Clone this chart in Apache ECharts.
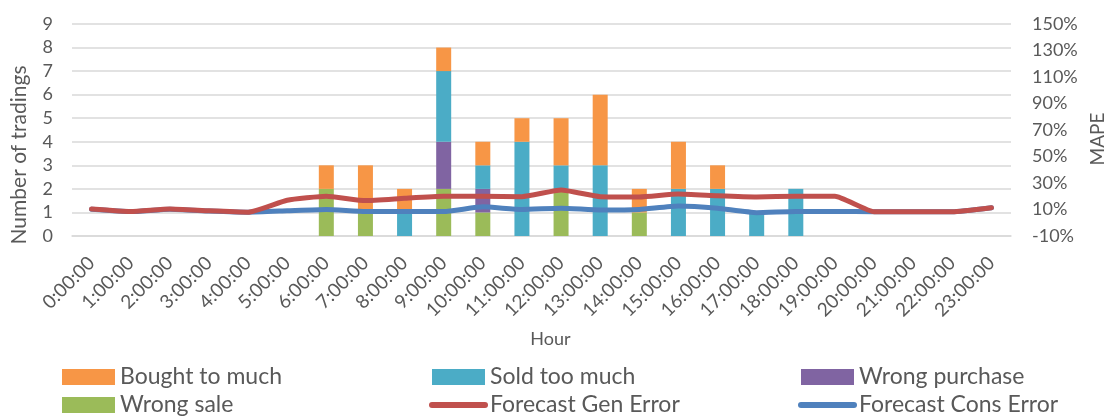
<!DOCTYPE html>
<html>
<head>
<meta charset="utf-8">
<script src="https://cdn.jsdelivr.net/npm/echarts@6/dist/echarts.min.js"></script>
<style>
  html, body { margin: 0; padding: 0; background: #fff; }
  #chart { width: 1107px; height: 417px; }
</style>
</head>
<body>
<div id="chart"></div>
<script>
// Hourly trading errors (stacked counts) with forecast MAPE lines
const hours = ['0:00:00','1:00:00','2:00:00','3:00:00','4:00:00','5:00:00','6:00:00','7:00:00',
  '8:00:00','9:00:00','10:00:00','11:00:00','12:00:00','13:00:00','14:00:00','15:00:00',
  '16:00:00','17:00:00','18:00:00','19:00:00','20:00:00','21:00:00','22:00:00','23:00:00'];

const boughtToMuch  = [0,0,0,0,0,0,1,2,1,1,1,1,2,3,1,2,1,0,0,0,0,0,0,0];
const soldTooMuch   = [0,0,0,0,0,0,0,0,1,3,1,4,1,3,0,2,2,1,2,0,0,0,0,0];
const wrongPurchase = [0,0,0,0,0,0,0,0,0,2,1,0,0,0,0,0,0,0,0,0,0,0,0,0];
const wrongSale     = [0,0,0,0,0,0,2,1,0,2,1,0,2,0,1,0,0,0,0,0,0,0,0,0];

// MAPE in percent
const forecastGenError  = [10.4,8.5,10.4,9,8,17,20,16.7,18.5,20,20,19.7,24.7,19.7,19.5,21.7,20.4,19.5,20,20,8.3,8.3,8.3,11.4];
const forecastConsError = [10.2,8.4,10.2,8.9,8,9,10,8.5,8.5,8.5,12,10,11,9.6,10,12.6,10.9,7.6,8.5,8.5,8.3,8.3,8.3,11.3];

const countTicks = [0, 9, 1];        // min, max, step
const mapeTicks  = [-10, 150, 20];   // min, max, step

const C = {
  orange: '#F79646', teal: '#4BACC6', purple: '#8064A2', green: '#9BBB59',
  red: '#C0504D', blue: '#4F81BD', text: '#595959', grid: '#D9D9D9'
};
const FONT = 'Lato';

const chart = echarts.init(document.getElementById('chart'));

function bar(name, data, color) {
  return {
    name, type: 'bar', stack: 'trades', data, barWidth: 15,
    itemStyle: { color }, emphasis: { disabled: true }
  };
}
function line(name, data, color, z) {
  return {
    name, type: 'line', yAxisIndex: 1, data, z,
    symbol: 'none', smooth: 0.15,
    lineStyle: { color, width: 5, join: 'round', cap: 'round' },
    itemStyle: { color }, emphasis: { disabled: true }
  };
}

const legendText = { color: C.text, fontSize: 23, lineHeight: 26, fontFamily: FONT };
function legendCol(left, names) {
  return {
    orient: 'vertical', left, top: 364, height: 60, padding: 0,
    itemWidth: 53, itemHeight: 16, itemGap: 2,
    textStyle: legendText, selectedMode: false,
    data: names.map(n => typeof n === 'string' ? { name: n, icon: 'rect' } : n)
  };
}
// line series show a plain thick stroke as their key
const lineKey = (name) => ({ name, lineStyle: { width: 6, cap: 'round' }, itemStyle: { opacity: 0 } });

chart.setOption({
  animation: false,
  textStyle: { fontFamily: FONT },
  grid: { left: 72, right: 96, top: 24, bottom: 181, containLabel: false, outerBoundsMode: 'none' },
  legend: [
    legendCol(62, ['Bought to much', 'Wrong sale']),
    legendCol(429, ['Sold too much', lineKey('Forecast Gen Error')]),
    legendCol(798, ['Wrong purchase', lineKey('Forecast Cons Error')])
  ],
  xAxis: {
    type: 'category', data: hours, boundaryGap: true,
    name: 'Hour', nameLocation: 'middle', nameGap: 94,
    nameTextStyle: { color: C.text, fontSize: 18, fontFamily: FONT, padding: [0, 0, 0, 18] },
    axisLine: { lineStyle: { color: C.grid, width: 1.5 } },
    axisTick: { show: false },
    axisLabel: { rotate: 45, interval: 0, color: C.text, fontSize: 19, fontFamily: FONT, margin: 24 }
  },
  yAxis: [{
    type: 'value', min: countTicks[0], max: countTicks[1], interval: countTicks[2],
    name: 'Number of tradings', nameLocation: 'middle', nameGap: 42, nameRotate: 90,
    nameTextStyle: { color: C.text, fontSize: 21, fontFamily: FONT, padding: [0, 50, 0, 0] },
    axisLine: { show: false }, axisTick: { show: false },
    axisLabel: { color: C.text, fontSize: 18, fontFamily: FONT, margin: 19 },
    splitLine: { lineStyle: { color: C.grid, width: 1.5 } }
  }, {
    type: 'value', position: 'right', min: mapeTicks[0], max: mapeTicks[1], interval: mapeTicks[2],
    name: 'MAPE', nameLocation: 'middle', nameGap: 74, nameRotate: 90,
    nameTextStyle: { color: C.text, fontSize: 19, fontFamily: FONT, padding: [0, 18, 0, 0] },
    axisLine: { show: false }, axisTick: { show: false },
    axisLabel: { color: C.text, fontSize: 18, fontFamily: FONT, margin: 21, formatter: '{value}%' },
    splitLine: { show: false }
  }],
  series: [
    bar('Wrong sale', wrongSale, C.green),
    bar('Wrong purchase', wrongPurchase, C.purple),
    bar('Sold too much', soldTooMuch, C.teal),
    bar('Bought to much', boughtToMuch, C.orange),
    line('Forecast Cons Error', forecastConsError, C.blue, 3),
    line('Forecast Gen Error', forecastGenError, C.red, 4)
  ]
});
</script>
</body>
</html>
